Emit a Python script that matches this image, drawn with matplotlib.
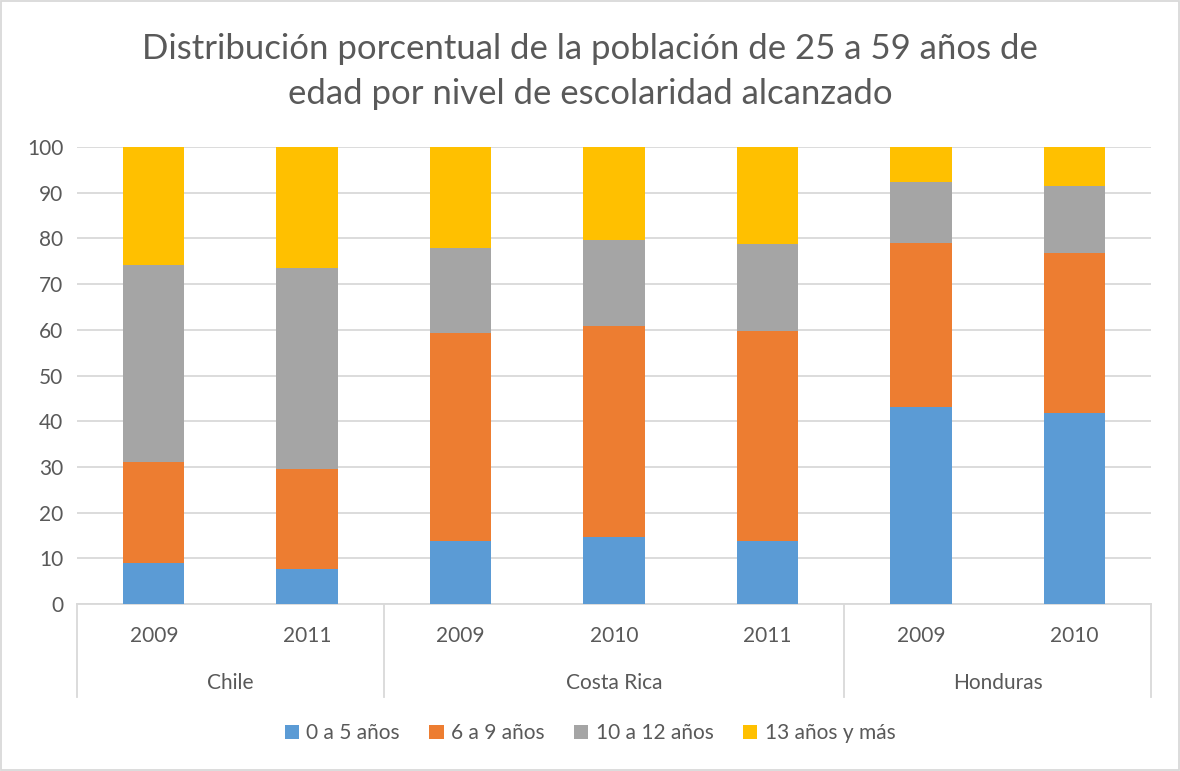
import matplotlib.pyplot as plt
import matplotlib.transforms as mtransforms
import numpy as np

plt.rcParams['font.family'] = ['Lato', 'DejaVu Sans']

countries = ['Chile', 'Costa Rica', 'Honduras']
years = [['2009', '2011'], ['2009', '2010', '2011'], ['2009', '2010']]

series_names = ['0 a 5 años', '6 a 9 años', '10 a 12 años', '13 años y más']
colors = ['#5b9bd5', '#ed7d31', '#a5a5a5', '#ffc000']

# valores (porcentaje por tramo)
tramo_0_5 = [9.0, 7.7, 13.8, 14.6, 13.7, 43.2, 41.8]
tramo_6_9 = [22.1, 21.9, 45.5, 46.3, 46.0, 35.8, 35.1]
tramo_10_12 = [43.0, 43.9, 18.7, 18.8, 19.1, 13.4, 14.6]
tramo_13_mas = [25.9, 26.5, 22.0, 20.3, 21.2, 7.6, 8.5]

values = [tramo_0_5, tramo_6_9, tramo_10_12, tramo_13_mas]

TEXT = '#595959'
GRID = '#d9d9d9'

fig = plt.figure(figsize=(11.8, 7.71), dpi=100)
ax = fig.add_axes([0.0653, 0.2166, 0.9101, 0.5927])

x = np.arange(sum(len(y) for y in years))
bottom = np.zeros(len(x))
for name, vals, c in zip(series_names, values, colors):
    ax.bar(x, vals, 0.4, bottom=bottom, color=c, label=name, zorder=3)
    bottom += np.array(vals)

ax.set_xlim(-0.5, len(x) - 0.5)
ax.set_ylim(0, 100)
ax.set_yticks(np.arange(0, 101, 10))
ax.yaxis.grid(True, color=GRID, linewidth=1.3, zorder=0)
for s in ['top', 'right', 'left']:
    ax.spines[s].set_visible(False)
ax.spines['bottom'].set_color(GRID)
ax.spines['bottom'].set_linewidth(1.3)
ax.tick_params(axis='y', length=0, labelsize=15, labelcolor=TEXT, pad=10)
ax.tick_params(axis='x', length=0, labelsize=15, labelcolor=TEXT, pad=16)

year_labels = [y for grp in years for y in grp]
ax.set_xticks(x)
ax.set_xticklabels(year_labels)

# eje de categorias de dos niveles
trans = mtransforms.blended_transform_factory(ax.transData, ax.transAxes)
start = -0.5
ax.plot([start, start], [0, -0.203], color=GRID, lw=1.3, transform=trans, clip_on=False)
for country, grp in zip(countries, years):
    end = start + len(grp)
    ax.plot([end, end], [0, -0.203], color=GRID, lw=1.3, transform=trans, clip_on=False)
    ax.text((start + end) / 2, -0.172, country, transform=trans, ha='center', va='center',
            fontsize=15, color=TEXT)
    start = end

fig.text(0.5, 0.907, 'Distribución porcentual de la población de 25 a 59 años de\n'
         'edad por nivel de escolaridad alcanzado', ha='center', va='center',
         fontsize=25, color=TEXT, linespacing=1.5)

fig.legend(loc='center', bbox_to_anchor=(0.5, 0.049), ncol=4, frameon=False,
           fontsize=15, labelcolor=TEXT, handlelength=0.7, handleheight=0.7,
           handletextpad=0.35, columnspacing=1.4)

fig.patches.append(plt.Rectangle((0.001, 0.001), 0.998, 0.998, transform=fig.transFigure,
                                 fill=False, edgecolor=GRID, lw=1.3))

fig.savefig('out.png', dpi=100)
